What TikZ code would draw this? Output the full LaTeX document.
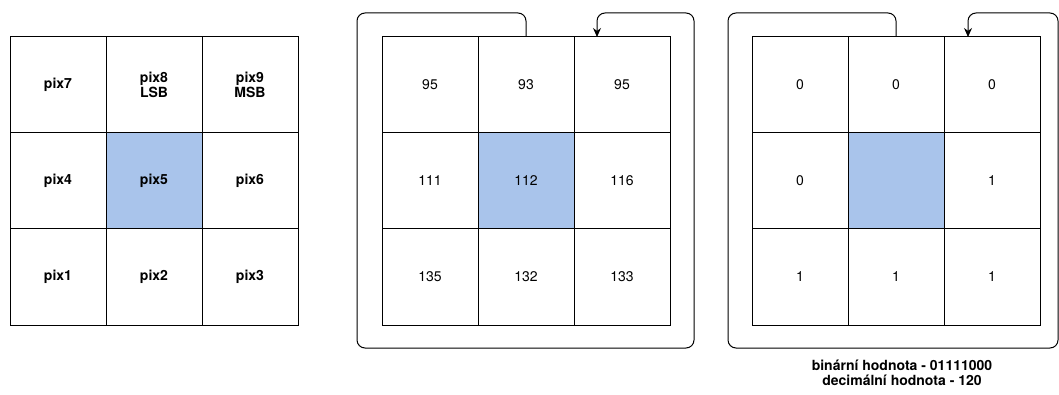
\documentclass[tikz,border=0pt]{standalone}
\usepackage{fontspec}
\setsansfont{TeX Gyre Heros}
\usepackage{xcolor}
\usepackage{tikz}
\usetikzlibrary{positioning, arrows.meta, calc}
\definecolor{centre}{HTML}{A9C4EB}

\begin{document}
\begin{tikzpicture}[
      x=1pt, y=1pt,
      cell/.style={
          draw, rectangle, minimum width=96pt,
          minimum height=96pt, outer sep=0pt, inner sep=0pt,
          align=center, line width=1pt,
          font=\sffamily\fontsize{14}{15}\selectfont
        },
      pixcell/.style={cell, font=\sffamily\bfseries\fontsize{14}{15}\selectfont},
      mid/.style={fill=centre},
      loopline/.style={-{Stealth[length=9pt,width=8pt]}, line width=1pt,
          rounded corners=8pt},
      note/.style={align=center, inner sep=0pt,
          font=\sffamily\bfseries\fontsize{14}{15}\selectfont}
    ]
    \useasboundingbox (0,0) rectangle (1059,-395);

    % ── Pixel names (left grid) ──
    \node[pixcell] (a7) at (58,-85) {pix7};
    \node[pixcell, right=0pt of a7] (a8) {pix8\\LSB};
    \node[pixcell, right=0pt of a8] (a9) {pix9\\MSB};
    \node[pixcell, below=0pt of a7] (a4) {pix4};
    \node[pixcell, mid, right=0pt of a4] (a5) {pix5};
    \node[pixcell, right=0pt of a5] (a6) {pix6};
    \node[pixcell, below=0pt of a4] (a1) {pix1};
    \node[pixcell, right=0pt of a1] (a2) {pix2};
    \node[pixcell, right=0pt of a2] (a3) {pix3};

    % ── Intensity values (middle grid) ──
    \node[cell] (b7) at (430,-85) {95};
    \node[cell, right=0pt of b7] (b8) {93};
    \node[cell, right=0pt of b8] (b9) {95};
    \node[cell, below=0pt of b7] (b4) {111};
    \node[cell, mid, right=0pt of b4] (b5) {112};
    \node[cell, right=0pt of b5] (b6) {116};
    \node[cell, below=0pt of b4] (b1) {135};
    \node[cell, right=0pt of b1] (b2) {132};
    \node[cell, right=0pt of b2] (b3) {133};

    % ── Binary values (right grid) ──
    \node[cell] (c7) at (800,-85) {0};
    \node[cell, right=0pt of c7] (c8) {0};
    \node[cell, right=0pt of c8] (c9) {0};
    \node[cell, below=0pt of c7] (c4) {0};
    \node[cell, mid, right=0pt of c4] (c5) {};
    \node[cell, right=0pt of c5] (c6) {1};
    \node[cell, below=0pt of c4] (c1) {1};
    \node[cell, right=0pt of c1] (c2) {1};
    \node[cell, right=0pt of c2] (c3) {1};

    % ── Reading order loops ──
    \coordinate (b_tl) at ([shift={(-25pt,24pt)}]b7.north west);
    \coordinate (b_br) at ([shift={(24pt,-23pt)}]b3.south east);
    \coordinate (b_in) at ([xshift=-25pt]b9.north);
    \draw[loopline] (b8.north) |- (b_tl) |- (b_br) |- ([yshift=24pt]b_in) -- (b_in);

    \coordinate (c_tl) at ([shift={(-24pt,24pt)}]c7.north west);
    \coordinate (c_br) at ([shift={(18pt,-23pt)}]c3.south east);
    \coordinate (c_in) at ([xshift=-24pt]c9.north);
    \draw[loopline] (c8.north) |- (c_tl) |- (c_br) |- ([yshift=24pt]c_in) -- (c_in);

    % ── Result ──
    \node[note, below=35pt of c2, xshift=6pt] (res)
    {binární hodnota - 01111000\\decimální hodnota - 120};

\end{tikzpicture}
\end{document}
